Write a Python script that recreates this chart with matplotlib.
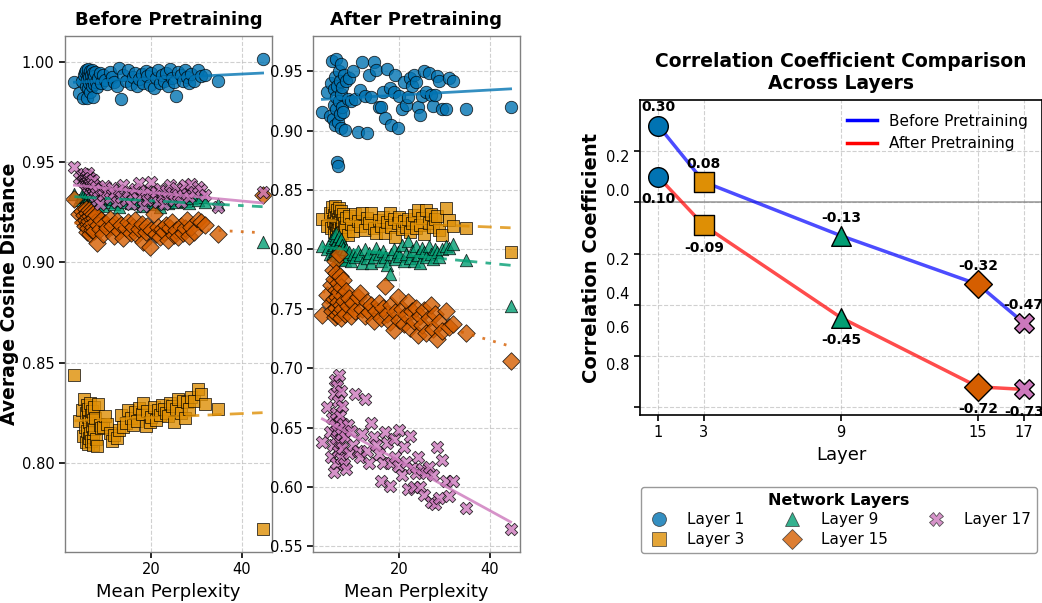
import numpy as np
import matplotlib
matplotlib.use("Agg")
import matplotlib.pyplot as plt
from matplotlib.lines import Line2D
from matplotlib.ticker import FuncFormatter
from matplotlib.transforms import ScaledTranslation

# ---------------------------------------------------------------- data
perplexity = [
    3.1, 4.2, 4.8, 5.1, 5.3, 5.5, 5.6, 5.7, 5.8, 5.9,
    6.0, 6.1, 6.2, 6.3, 6.4, 6.5, 6.6, 6.7, 6.8, 6.9,
    7.0, 7.1, 7.2, 7.3, 7.4, 7.5, 7.7, 7.9, 8.1, 8.4,
    8.7, 9.0, 9.4, 9.8, 10.3, 10.9,
    11.4, 11.9, 12.5, 13.0, 13.4, 13.9, 14.5, 15.0, 15.6, 16.1,
    16.5, 17.0, 17.4, 17.9, 18.3, 18.8, 19.2, 19.7, 20.1, 20.6,
    21.0, 21.5, 21.9, 22.4, 22.8, 23.3, 23.7, 24.2, 24.7, 25.1,
    25.6, 26.0, 26.5, 27.0, 27.4, 27.9, 28.4, 28.9, 29.5, 30.3,
    31.0, 31.8, 34.8, 44.6,
]

before_l1 = [
    0.9900, 0.9845, 0.9905, 0.9820, 0.9935, 0.9950, 0.9880, 0.9960, 0.9820, 0.9915,
    0.9940, 0.9870, 0.9965, 0.9895, 0.9925, 0.9850, 0.9955, 0.9905, 0.9935, 0.9880,
    0.9960, 0.9910, 0.9825, 0.9945, 0.9890, 0.9930, 0.9950, 0.9900, 0.9875, 0.9920,
    0.9945, 0.9895, 0.9935, 0.9910, 0.9890, 0.9950,
    0.9925, 0.9900, 0.9880, 0.9970, 0.9815, 0.9935, 0.9905, 0.9960, 0.9890, 0.9925,
    0.9945, 0.9880, 0.9915, 0.9940, 0.9895, 0.9955, 0.9930, 0.9885, 0.9945, 0.9870,
    0.9920, 0.9960, 0.9895, 0.9935, 0.9905, 0.9945, 0.9880, 0.9965, 0.9920, 0.9900,
    0.9830, 0.9950, 0.9935, 0.9905, 0.9960, 0.9925, 0.9895, 0.9940, 0.9905, 0.9960,
    0.9930, 0.9935, 0.9905, 1.0015,
]
before_l3 = [
    0.8440, 0.8210, 0.8265, 0.8135, 0.8320, 0.8180, 0.8250, 0.8105, 0.8290, 0.8160,
    0.8230, 0.8095, 0.8270, 0.8125, 0.8205, 0.8300, 0.8150, 0.8240, 0.8110, 0.8185,
    0.8260, 0.8130, 0.8215, 0.8090, 0.8280, 0.8170, 0.8225, 0.8120, 0.8085, 0.8295,
    0.8190, 0.8175, 0.8180, 0.8235, 0.8195, 0.8150,
    0.8110, 0.8140, 0.8125, 0.8165, 0.8240, 0.8180, 0.8200, 0.8265, 0.8225, 0.8190,
    0.8255, 0.8210, 0.8275, 0.8245, 0.8300, 0.8185, 0.8260, 0.8205, 0.8230, 0.8280,
    0.8215, 0.8265, 0.8240, 0.8290, 0.8270, 0.8250, 0.8235, 0.8300, 0.8285, 0.8205,
    0.8270, 0.8320, 0.8250, 0.8310, 0.8225, 0.8305, 0.8270, 0.8330, 0.8310, 0.8370,
    0.8345, 0.8295, 0.8270, 0.7670,
]
before_l9 = [
    0.9340, 0.9310, 0.9325, 0.9345, 0.9300, 0.9330, 0.9355, 0.9315, 0.9290, 0.9340,
    0.9320, 0.9305, 0.9350, 0.9330, 0.9295, 0.9315, 0.9345, 0.9325, 0.9305, 0.9335,
    0.9290, 0.9320, 0.9340, 0.9310, 0.9330, 0.9300, 0.9355, 0.9315, 0.9325, 0.9285,
    0.9335, 0.9310, 0.9280, 0.9330, 0.9300, 0.9320,
    0.9315, 0.9290, 0.9335, 0.9275, 0.9310, 0.9340, 0.9300, 0.9325, 0.9295, 0.9350,
    0.9320, 0.9305, 0.9335, 0.9280, 0.9315, 0.9345, 0.9300, 0.9325, 0.9310, 0.9290,
    0.9330, 0.9315, 0.9275, 0.9340, 0.9305, 0.9320, 0.9295, 0.9330, 0.9310, 0.9350,
    0.9300, 0.9325, 0.9315, 0.9340, 0.9305, 0.9330, 0.9295, 0.9320, 0.9335, 0.9310,
    0.9325, 0.9300, 0.9290, 0.9100,
]
before_l15 = [
    0.9315, 0.9240, 0.9255, 0.9200, 0.9235, 0.9180, 0.9265, 0.9210, 0.9150, 0.9245,
    0.9190, 0.9225, 0.9170, 0.9260, 0.9205, 0.9140, 0.9230, 0.9185, 0.9250, 0.9160,
    0.9215, 0.9195, 0.9240, 0.9175, 0.9220, 0.9155, 0.9200, 0.9235, 0.9095, 0.9185,
    0.9165, 0.9210, 0.9140, 0.9195, 0.9170, 0.9215,
    0.9180, 0.9130, 0.9205, 0.9155, 0.9185, 0.9120, 0.9170, 0.9200, 0.9145, 0.9175,
    0.9210, 0.9135, 0.9165, 0.9190, 0.9100, 0.9150, 0.9180, 0.9075, 0.9160, 0.9240,
    0.9140, 0.9175, 0.9125, 0.9165, 0.9150, 0.9185, 0.9110, 0.9170, 0.9200, 0.9135,
    0.9160, 0.9125, 0.9180, 0.9145, 0.9170, 0.9210, 0.9130, 0.9175, 0.9150, 0.9210,
    0.9200, 0.9185, 0.9140, 0.9335,
]
before_l17 = [
    0.9475, 0.9420, 0.9435, 0.9405, 0.9440, 0.9395, 0.9425, 0.9410, 0.9385, 0.9430,
    0.9400, 0.9445, 0.9375, 0.9415, 0.9390, 0.9420, 0.9365, 0.9405, 0.9380, 0.9350,
    0.9395, 0.9370, 0.9410, 0.9340, 0.9385, 0.9360, 0.9330, 0.9375, 0.9310, 0.9355,
    0.9290, 0.9365, 0.9335, 0.9380, 0.9350, 0.9320,
    0.9370, 0.9345, 0.9300, 0.9360, 0.9325, 0.9385, 0.9310, 0.9350, 0.9290, 0.9340,
    0.9365, 0.9320, 0.9395, 0.9335, 0.9280, 0.9355, 0.9310, 0.9345, 0.9400, 0.9325,
    0.9350, 0.9300, 0.9365, 0.9330, 0.9290, 0.9355, 0.9320, 0.9385, 0.9345, 0.9310,
    0.9370, 0.9335, 0.9300, 0.9365, 0.9385, 0.9340, 0.9325, 0.9390, 0.9350, 0.9375,
    0.9360, 0.9335, 0.9275, 0.9350,
]

after_l1 = [
    0.9160, 0.9330, 0.9120, 0.9400, 0.9585, 0.9100, 0.9350, 0.9215, 0.9455, 0.9050,
    0.9280, 0.9600, 0.9180, 0.8740, 0.9380, 0.9070, 0.8700, 0.9250, 0.9505, 0.9140,
    0.9420, 0.9310, 0.9020, 0.9560, 0.9200, 0.9365, 0.9160, 0.9470, 0.9010, 0.9420,
    0.9270, 0.9445, 0.9250, 0.9500, 0.9270, 0.8985,
    0.9340, 0.9580, 0.9290, 0.8980, 0.9470, 0.9285, 0.9575, 0.9510, 0.9200, 0.9200,
    0.9330, 0.9110, 0.9520, 0.9360, 0.9050, 0.9330, 0.9470, 0.9020, 0.9290, 0.9180,
    0.9410, 0.9220, 0.9280, 0.9440, 0.9380, 0.9470, 0.9410, 0.9200, 0.9130, 0.9290,
    0.9500, 0.9330, 0.9490, 0.9300, 0.9210, 0.9300, 0.9460, 0.9420, 0.9180, 0.9180,
    0.9440, 0.9420, 0.9180, 0.9200,
]
after_l3 = [
    0.8260, 0.8200, 0.8310, 0.8180, 0.8360, 0.8240, 0.8150, 0.8290, 0.8220, 0.8370,
    0.8190, 0.8270, 0.8135, 0.8330, 0.8210, 0.8255, 0.8165, 0.8345, 0.8230, 0.8110,
    0.8285, 0.8205, 0.8320, 0.8175, 0.8250, 0.8140, 0.8300, 0.8225, 0.8190, 0.8265,
    0.8120, 0.8280, 0.8215, 0.8155, 0.8300, 0.8240,
    0.8200, 0.8305, 0.8160, 0.8265, 0.8225, 0.8305, 0.8180, 0.8140, 0.8245, 0.8200,
    0.8275, 0.8135, 0.8235, 0.8310, 0.8190, 0.8260, 0.8105, 0.8225, 0.8270, 0.8170,
    0.8240, 0.8190, 0.8255, 0.8150, 0.8225, 0.8290, 0.8180, 0.8335, 0.8210, 0.8265,
    0.8130, 0.8335, 0.8225, 0.8300, 0.8190, 0.8255, 0.8280, 0.8160, 0.8120, 0.8345,
    0.8245, 0.8200, 0.8180, 0.7980,
]
after_l9 = [
    0.8030, 0.8000, 0.7960, 0.8080, 0.8020, 0.7970, 0.8120, 0.8040, 0.7990, 0.8100,
    0.8060, 0.7950, 0.8140, 0.8010, 0.8080, 0.7930, 0.8050, 0.8110, 0.7985, 0.8070,
    0.7940, 0.8030, 0.8090, 0.7960, 0.8040, 0.7920, 0.8010, 0.7975, 0.7910, 0.8000,
    0.7945, 0.7980, 0.7905, 0.7965, 0.7935, 0.7990,
    0.7950, 0.7890, 0.8000, 0.7925, 0.7970, 0.7885, 0.7940, 0.8010, 0.7960, 0.7905,
    0.7990, 0.7935, 0.7870, 0.7790, 0.7960, 0.8005, 0.7920, 0.7975, 0.7945, 0.8040,
    0.7905, 0.7960, 0.8075, 0.7930, 0.7985, 0.7900, 0.8030, 0.7950, 0.7890, 0.8015,
    0.7975, 0.7935, 0.8025, 0.7960, 0.7920, 0.8000, 0.7975, 0.7940, 0.8005, 0.8030,
    0.8010, 0.8045, 0.7910, 0.7520,
]
after_l15 = [
    0.7450, 0.7620, 0.7540, 0.7700, 0.7480, 0.7830, 0.7580, 0.7750, 0.7430, 0.7900,
    0.7660, 0.7510, 0.7800, 0.7600, 0.7450, 0.7720, 0.7560, 0.7960, 0.7640, 0.7470,
    0.7780, 0.7530, 0.7680, 0.7420, 0.7610, 0.7500, 0.7740, 0.7570, 0.7460, 0.7650,
    0.7520, 0.7590, 0.7440, 0.7550, 0.7480, 0.7600,
    0.7630, 0.7500, 0.7440, 0.7560, 0.7470, 0.7530, 0.7400, 0.7480, 0.7550, 0.7420,
    0.7510, 0.7690, 0.7460, 0.7390, 0.7530, 0.7320, 0.7470, 0.7600, 0.7410, 0.7500,
    0.7370, 0.7450, 0.7560, 0.7340, 0.7480, 0.7400, 0.7510, 0.7280, 0.7440, 0.7360,
    0.7490, 0.7300, 0.7420, 0.7530, 0.7330, 0.7460, 0.7250, 0.7390, 0.7310, 0.7480,
    0.7350, 0.7370, 0.7300, 0.7060,
]
after_l17 = [
    0.6380, 0.6670, 0.6460, 0.6250, 0.6580, 0.6350, 0.6780, 0.6130, 0.6520, 0.6900,
    0.6410, 0.6620, 0.6200, 0.6850, 0.6480, 0.6300, 0.6720, 0.6550, 0.6940, 0.6380,
    0.6600, 0.6240, 0.6810, 0.6450, 0.6680, 0.6330, 0.6530, 0.6190, 0.6420, 0.6150,
    0.6520, 0.6290, 0.6470, 0.6350, 0.6780, 0.6300,
    0.6250, 0.6450, 0.6740, 0.6300, 0.6200, 0.6540, 0.6420, 0.6350, 0.6280, 0.6050,
    0.6200, 0.6460, 0.6370, 0.6010, 0.6200, 0.6400, 0.6250, 0.6180, 0.6480, 0.6100,
    0.6340, 0.6210, 0.5980, 0.6430, 0.6160, 0.6000, 0.6120, 0.6250, 0.6000, 0.6150,
    0.5930, 0.6120, 0.6170, 0.5870, 0.6100, 0.5860, 0.6340, 0.5910, 0.6230, 0.6050,
    0.5920, 0.6050, 0.5820, 0.5650,
]

layers = [1, 3, 9, 15, 17]
layer_names = ["Layer 1", "Layer 3", "Layer 9", "Layer 15", "Layer 17"]
corr_before = [0.30, 0.08, -0.13, -0.32, -0.47]
corr_after = [0.10, -0.09, -0.45, -0.72, -0.73]
corr_ticks = [-0.8, -0.6, -0.4, -0.2, 0.0, 0.2]

# ---------------------------------------------------------------- styles
colors = ["#0173b2", "#de8f05", "#029e73", "#d55e00", "#cc78bc"]
markers = ["o", "s", "^", "D", "X"]
fit_styles = ["-", (0, (5, 3)), (0, (8, 3, 2, 3)), (0, (1, 3)), "-"]
tick_label_shift_px = [-43, -29, -12, 5, -12, 5]   # vertical nudge of y tick labels

grid_kw = dict(linestyle="--", color="#bdbdbd", alpha=0.7, linewidth=0.8)

fig = plt.figure(figsize=(10.42, 6.03), dpi=100)
ax_before = fig.add_axes([65 / 1042, 51 / 603, 207 / 1042, 516 / 603])
ax_after = fig.add_axes([313 / 1042, 51 / 603, 207 / 1042, 516 / 603])
ax_corr = fig.add_axes([640 / 1042, 188 / 603, 402 / 1042, 315 / 603])

x = np.asarray(perplexity)


def scatter_panel(ax, series, title):
    for y, c, m, ls in zip(series, colors, markers, fit_styles):
        y = np.asarray(y)
        ax.scatter(x, y, s=80, c=c, marker=m, alpha=0.8,
                   edgecolors="black", linewidths=0.6, zorder=2)
        slope, intercept = np.polyfit(x, y, 1)
        xs = np.linspace(x.min(), x.max(), 100)
        ax.plot(xs, slope * xs + intercept, color=c, linestyle=ls,
                linewidth=2, alpha=0.8, zorder=3)
    ax.set_title(title, fontsize=13, fontweight="bold", pad=8)
    ax.set_xlabel("Mean Perplexity", fontsize=13)
    ax.grid(True, **grid_kw)
    ax.set_axisbelow(True)
    for sp in ax.spines.values():
        sp.set_color("#808080")
        sp.set_linewidth(1.0)
    ax.tick_params(axis="both", labelsize=10.5, length=4, width=1.2, color="black")


scatter_panel(ax_before, [before_l1, before_l3, before_l9, before_l15, before_l17],
              "Before Pretraining")
scatter_panel(ax_after, [after_l1, after_l3, after_l9, after_l15, after_l17],
              "After Pretraining")
ax_before.set_xticks([20, 40])
ax_after.set_xticks([20, 40])
ax_before.set_ylabel("Average Cosine Distance", fontsize=13.5, fontweight="bold",
                     labelpad=2)

# ---------------------------------------------------------------- correlation panel
ax_corr.axhline(0, color="gray", linewidth=1.3, alpha=0.7, zorder=1)
ax_corr.plot(layers, corr_before, color="blue", alpha=0.7, linewidth=2.5, zorder=2)
ax_corr.plot(layers, corr_after, color="red", alpha=0.7, linewidth=2.5, zorder=2)
for lx, cb, ca, c, m in zip(layers, corr_before, corr_after, colors, markers):
    ax_corr.scatter([lx], [cb], s=200, c=c, marker=m, edgecolors="black",
                    linewidths=1.0, zorder=4)
    ax_corr.scatter([lx], [ca], s=200, c=c, marker=m, edgecolors="black",
                    linewidths=1.0, zorder=4)
    ax_corr.annotate(f"{cb:.2f}", (lx, cb), xytext=(0, 8), textcoords="offset points",
                     ha="center", va="bottom", fontsize=10, fontweight="bold",
                     annotation_clip=False)
    ax_corr.annotate(f"{ca:.2f}", (lx, ca), xytext=(0, -11), textcoords="offset points",
                     ha="center", va="top", fontsize=10, fontweight="bold",
                     annotation_clip=False)

ax_corr.set_ylim(-0.83, 0.40)
ax_corr.set_xticks(layers)
ax_corr.set_yticks(corr_ticks)
ax_corr.yaxis.set_major_formatter(FuncFormatter(lambda v, p: f"{abs(v):.1f}"))
ax_corr.set_xlabel("Layer", fontsize=13)
ax_corr.set_ylabel("Correlation Coefficient", fontsize=14, fontweight="bold")
ax_corr.set_title("Correlation Coefficient Comparison\nAcross Layers",
                  fontsize=13.5, fontweight="bold", pad=8)
ax_corr.grid(True, **grid_kw)
ax_corr.set_axisbelow(True)
for sp in ax_corr.spines.values():
    sp.set_color("black")
    sp.set_linewidth(1.2)
ax_corr.tick_params(axis="both", labelsize=10.5, length=4, width=1.2)

line_handles = [Line2D([0], [0], color="blue", linewidth=2.5),
                Line2D([0], [0], color="red", linewidth=2.5)]
ax_corr.legend(line_handles, ["Before Pretraining", "After Pretraining"],
               loc="upper right", frameon=False, fontsize=11)

for tick, dy in zip(ax_corr.yaxis.get_major_ticks(), tick_label_shift_px):
    tick.label1.set_transform(tick.label1.get_transform()
                              + ScaledTranslation(0, -dy / 100, fig.dpi_scale_trans))

# ---------------------------------------------------------------- layer legend
layer_handles = [Line2D([0], [0], linestyle="none", marker=m, markersize=10,
                        markerfacecolor=c, markeredgecolor="#333333",
                        markeredgewidth=0.6, alpha=0.8)
                 for c, m in zip(colors, markers)]
leg = fig.legend(layer_handles, layer_names, title="Network Layers", ncol=3,
                 loc="upper center", bbox_to_anchor=(839 / 1042, 1 - 479 / 603),
                 fontsize=11, title_fontproperties={"weight": "bold", "size": 11.5},
                 frameon=True, fancybox=True, edgecolor="#808080",
                 handlelength=1.5, columnspacing=2.4, handletextpad=1.1,
                 borderpad=0.4, labelspacing=0.3)

fig.savefig("out.png", dpi=100)
